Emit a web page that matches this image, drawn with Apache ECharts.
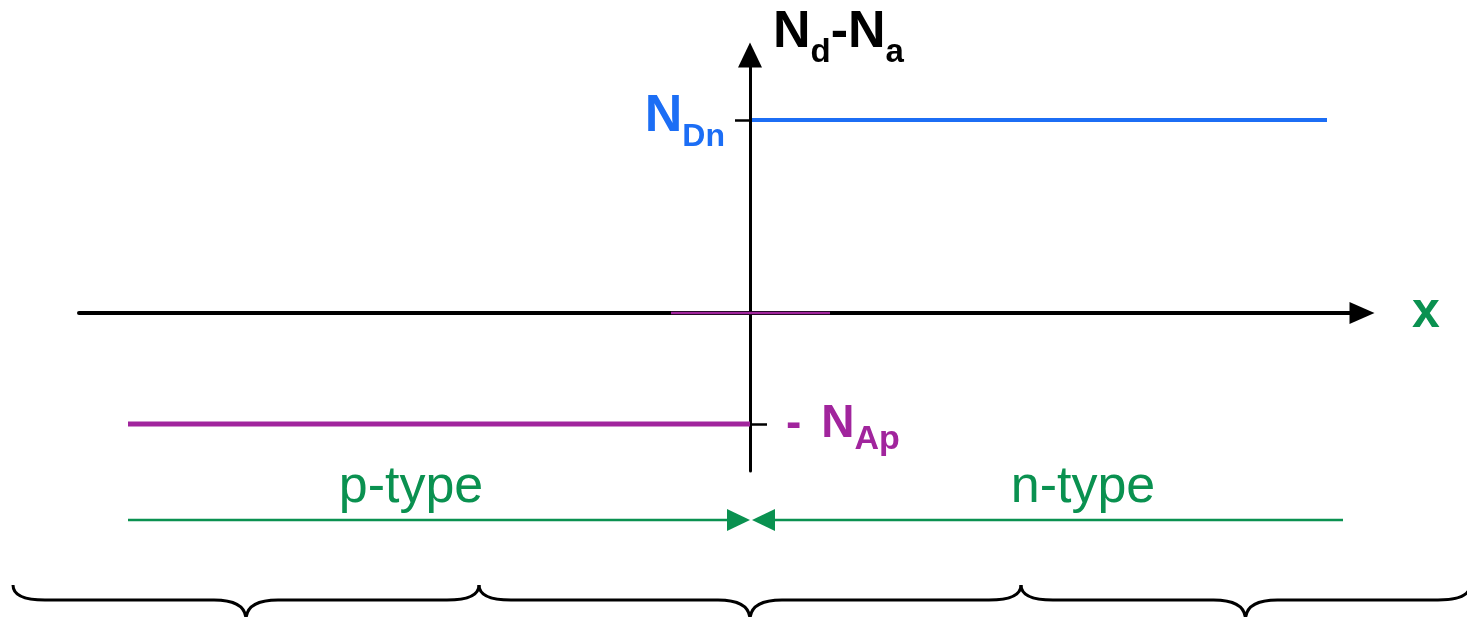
<!DOCTYPE html>
<html>
<head>
<meta charset="utf-8">
<title>N_d - N_a</title>
<script src="https://cdn.jsdelivr.net/npm/echarts@6/dist/echarts.min.js"></script>
<style>
  html, body { margin: 0; padding: 0; background: #fff; }
  #chart { width: 1467px; height: 617px; }
</style>
</head>
<body>
<div id="chart"></div>
<script>
// doping profile of an abrupt p-n junction (schematic units)
var xRange = [-6.71, 6.0];
var yRange = [-0.8187, 1.2746];

var nDn = 1.0;     // donor level, n side
var nAp = 0.575;   // acceptor level, p side

var nSide = [[0.02, nDn], [5.77, nDn]];
var pSide = [[-6.22, -nAp], [0, -nAp]];
var junction = [[-0.79, 0], [0.80, 0]];

// level labels next to the ticks
var levelValues = [nDn, -nAp];
var levelText = ['{n|N}{s|Dn}', '{h|-}{n|N}{s|Ap}'];

// p-type / n-type arrows below the plot
var regionNames = ['p-type', 'n-type'];
var regionFrom = [-6.22, 5.93];
var regionTo = [0, 0.02];
var regionLabelX = [-3.39, 3.33];
var regionLineY = -1.0725;
var regionLabelY = -0.907;

// curly braces along the bottom
var braceFrom = [-7.37, -2.71, 2.71];
var braceTo = [-2.71, 2.71, 7.2];
var braceY = [-1.409, -1.487, -1.59];   // ends, flat part, tip
var braceCurl = 0.32;

var blue = '#1c6ef5';
var purple = '#a1259d';
var green = '#0a9150';
var font = '"Liberation Sans", Arial, sans-serif';

function subRich(color, big, small) {
    return {
        n: { fill: color, color: color, fontSize: big, fontWeight: 'bold', fontFamily: font, verticalAlign: 'bottom', padding: [0, 0, 10, 0] },
        h: { fill: color, color: color, fontSize: big, fontWeight: 'bold', fontFamily: font, verticalAlign: 'bottom', padding: [0, 20, 10, 0] },
        s: { fill: color, color: color, fontSize: small, fontWeight: 'bold', fontFamily: font, verticalAlign: 'bottom' }
    };
}

var chart = echarts.init(document.getElementById('chart'));

function renderLevel(params, api) {
    var i = params.dataIndex;
    var p = api.coord([0, api.value(0)]);
    var left = i === 0;
    return {
        type: 'text',
        style: {
            text: levelText[i],
            x: p[0] + (left ? -25 : 36), y: p[1] + (left ? 2 : 5),
            align: left ? 'right' : 'left', verticalAlign: 'middle',
            rich: subRich(left ? blue : purple, left ? 52 : 46, left ? 32 : 34)
        }
    };
}

function renderRegion(params, api) {
    var i = params.dataIndex;
    var from = api.coord([api.value(0), regionLineY]);
    var to = api.coord([api.value(1), regionLineY]);
    var lab = api.coord([api.value(2), regionLabelY]);
    var dir = to[0] > from[0] ? 1 : -1;
    return {
        type: 'group',
        children: [{
            type: 'line',
            shape: { x1: from[0], y1: from[1], x2: to[0] - dir * 10, y2: to[1] },
            style: { stroke: green, lineWidth: 2.5 }
        }, {
            type: 'polygon',
            shape: { points: [[to[0], to[1]], [to[0] - dir * 23, to[1] - 11], [to[0] - dir * 23, to[1] + 11]] },
            style: { fill: green }
        }, {
            type: 'text',
            style: {
                text: regionNames[i], x: lab[0], y: lab[1],
                align: 'center', verticalAlign: 'middle',
                fill: green, fontSize: 52, fontFamily: font
            }
        }]
    };
}

function renderBrace(params, api) {
    var a = api.coord([api.value(0), braceY[0]]);
    var b = api.coord([api.value(1), braceY[0]]);
    var yf = api.coord([0, braceY[1]])[1];
    var yt = api.coord([0, braceY[2]])[1];
    var r = api.size([braceCurl, 0])[0];
    var xm = (a[0] + b[0]) / 2;
    var d = 'M' + a[0] + ' ' + a[1] +
        ' Q' + a[0] + ' ' + yf + ' ' + (a[0] + r) + ' ' + yf +
        ' L' + (xm - r) + ' ' + yf +
        ' Q' + xm + ' ' + yf + ' ' + xm + ' ' + yt +
        ' Q' + xm + ' ' + yf + ' ' + (xm + r) + ' ' + yf +
        ' L' + (b[0] - r) + ' ' + yf +
        ' Q' + b[0] + ' ' + yf + ' ' + b[0] + ' ' + b[1];
    return {
        type: 'path',
        shape: { pathData: d },
        style: { fill: 'none', stroke: '#000', lineWidth: 3 }
    };
}

var option = {
    animation: false,
    grid: { left: 79, right: 117, top: 67, bottom: 146, containLabel: false, outerBoundsMode: 'none' },
    xAxis: [{
        type: 'value',
        min: xRange[0], max: xRange[1],
        axisLine: {
            onZero: true,
            symbol: ['none', 'triangle'], symbolSize: [22, 25], symbolOffset: [0, 12],
            lineStyle: { color: '#000', width: 4 }
        },
        axisTick: { show: false },
        axisLabel: { show: false },
        splitLine: { show: false },
        name: 'x', nameLocation: 'end', nameGap: 62,
        nameTextStyle: { color: green, fontSize: 50, fontWeight: 'bold', fontFamily: font, padding: [42, 0, 0, 0] }
    }],
    yAxis: [{
        type: 'value',
        min: yRange[0], max: yRange[1],
        axisLine: {
            onZero: true, onZeroAxisIndex: 0,
            symbol: ['none', 'triangle'], symbolSize: [24, 25], symbolOffset: [0, 12],
            lineStyle: { color: '#000', width: 3 }
        },
        axisTick: { show: true, length: 15, customValues: levelValues, lineStyle: { color: '#000', width: 2.5 } },
        axisLabel: { show: false },
        splitLine: { show: false },
        name: '{n|N}{s|d}{n|-N}{s|a}', nameLocation: 'end', nameGap: -2,
        nameTextStyle: {
            align: 'left', verticalAlign: 'bottom', padding: [0, 0, 0, 23],
            rich: subRich('#000', 52, 33)
        }
    }, {
        type: 'value',
        position: 'left',
        min: yRange[0], max: yRange[1],
        axisLine: { show: false, onZero: true, onZeroAxisIndex: 0 },
        axisTick: { show: true, inside: true, length: 17, customValues: [-nAp], lineStyle: { color: '#000', width: 2.5 } },
        axisLabel: { show: false },
        splitLine: { show: false }
    }],
    series: [{
        name: 'n side', type: 'line', data: nSide,
        showSymbol: false, lineStyle: { color: blue, width: 4 }
    }, {
        name: 'p side', type: 'line', data: pSide,
        showSymbol: false, lineStyle: { color: purple, width: 5 }
    }, {
        name: 'junction', type: 'line', data: junction,
        showSymbol: false, lineStyle: { color: purple, width: 2.5 }
    }, {
        name: 'levels', type: 'custom', clip: false,
        data: levelValues.map(function (v) { return [v]; }),
        renderItem: renderLevel
    }, {
        name: 'regions', type: 'custom', clip: false,
        data: regionNames.map(function (n, i) { return [regionFrom[i], regionTo[i], regionLabelX[i]]; }),
        renderItem: renderRegion
    }, {
        name: 'braces', type: 'custom', clip: false,
        data: braceFrom.map(function (f, i) { return [f, braceTo[i]]; }),
        renderItem: renderBrace
    }]
};

chart.setOption(option);
</script>
</body>
</html>
